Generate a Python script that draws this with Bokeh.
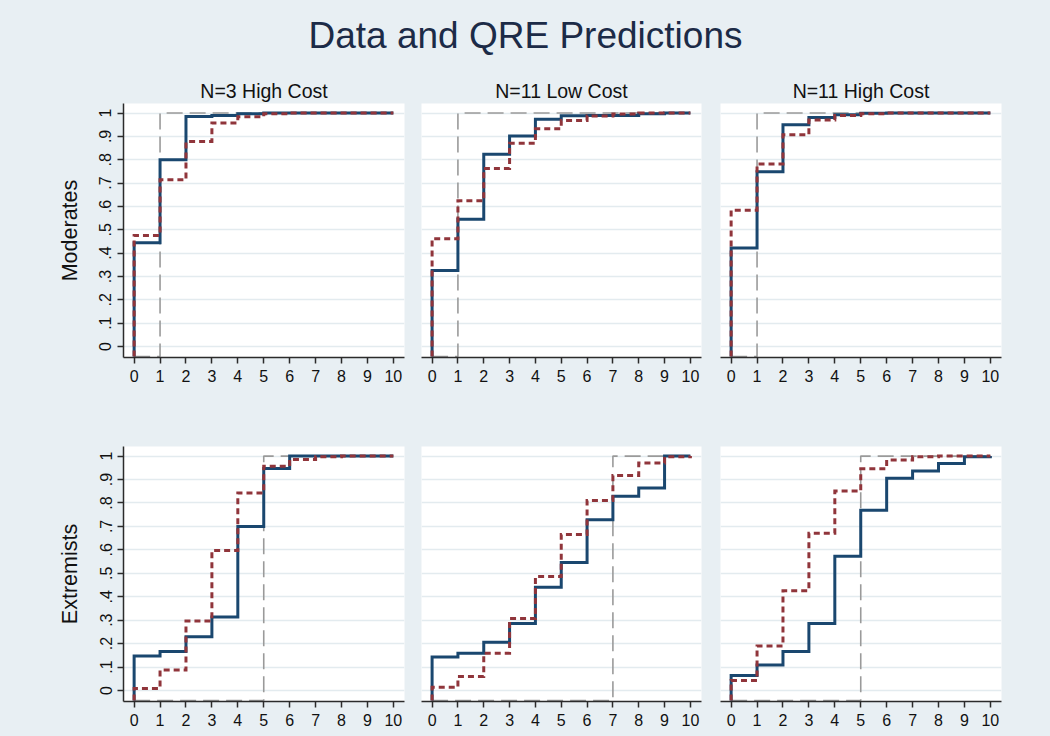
from bokeh.plotting import figure
from bokeh.layouts import gridplot, column
from bokeh.models import Range1d, FixedTicker, Grid, Label
from bokeh.embed import file_html
from bokeh.resources import INLINE

# ---------------- data ----------------
X_VALUES = [0, 1, 2, 3, 4, 5, 6, 7, 8, 9, 10]
X_TICKS = [0, 1, 2, 3, 4, 5, 6, 7, 8, 9, 10]
Y_TICKS = [0, 0.1, 0.2, 0.3, 0.4, 0.5, 0.6, 0.7, 0.8, 0.9, 1]
Y_TICK_LABELS = ["0", ".1", ".2", ".3", ".4", ".5", ".6", ".7", ".8", ".9", "1"]

MAIN_TITLE = "Data and QRE Predictions"
COLUMN_TITLES = ["N=3 High Cost", "N=11 Low Cost", "N=11 High Cost"]
ROW_LABELS = ["Moderates", "Extremists"]

FLOOR = -0.043  # level where the curves start (bottom of the plot region)

# Moderates
DATA_MOD_N3_HIGH = [0.445, 0.80, 0.985, 0.99, 0.997, 1.0, 1.0, 1.0, 1.0, 1.0, 1.0]
QRE_MOD_N3_HIGH = [0.476, 0.714, 0.878, 0.958, 0.984, 0.997, 1.0, 1.0, 1.0, 1.0, 1.0]
NASH_MOD_N3_HIGH = [-0.043, 1, 1, 1, 1, 1, 1, 1, 1, 1, 1]

DATA_MOD_N11_LOW = [0.326, 0.545, 0.824, 0.902, 0.974, 0.988, 0.99, 0.99, 0.997, 1.0, 1.0]
QRE_MOD_N11_LOW = [0.462, 0.624, 0.763, 0.871, 0.933, 0.968, 0.987, 0.996, 1.0, 1.0, 1.0]
NASH_MOD_N11_LOW = [-0.043, 1, 1, 1, 1, 1, 1, 1, 1, 1, 1]

DATA_MOD_N11_HIGH = [0.422, 0.749, 0.95, 0.981, 0.993, 0.999, 1.0, 1.0, 1.0, 1.0, 1.0]
QRE_MOD_N11_HIGH = [0.584, 0.782, 0.907, 0.97, 0.99, 0.997, 1.0, 1.0, 1.0, 1.0, 1.0]
NASH_MOD_N11_HIGH = [-0.043, 1, 1, 1, 1, 1, 1, 1, 1, 1, 1]

# Extremists
DATA_EXT_N3_HIGH = [0.147, 0.166, 0.229, 0.314, 0.70, 0.947, 1.0, 1.0, 1.0, 1.0, 1.0]
QRE_EXT_N3_HIGH = [0.009, 0.087, 0.297, 0.597, 0.843, 0.957, 0.986, 0.997, 1.0, 1.0, 1.0]
NASH_EXT_N3_HIGH = [-0.043, -0.043, -0.043, -0.043, -0.043, 1, 1, 1, 1, 1, 1]

DATA_EXT_N11_LOW = [0.143, 0.159, 0.206, 0.286, 0.44, 0.546, 0.729, 0.829, 0.864, 1.0, 1.0]
QRE_EXT_N11_LOW = [0.014, 0.06, 0.159, 0.307, 0.486, 0.666, 0.811, 0.917, 0.971, 0.997, 1.0]
NASH_EXT_N11_LOW = [-0.043, -0.043, -0.043, -0.043, -0.043, -0.043, -0.043, 1, 1, 1, 1]

DATA_EXT_N11_HIGH = [0.064, 0.109, 0.166, 0.286, 0.573, 0.769, 0.906, 0.937, 0.969, 0.997, 1.0]
QRE_EXT_N11_HIGH = [0.043, 0.19, 0.426, 0.671, 0.851, 0.946, 0.983, 0.997, 1.0, 1.0, 1.0]
NASH_EXT_N11_HIGH = [-0.043, -0.043, -0.043, -0.043, -0.043, 1, 1, 1, 1, 1, 1]

PANELS = [
    [(DATA_MOD_N3_HIGH, QRE_MOD_N3_HIGH, NASH_MOD_N3_HIGH),
     (DATA_MOD_N11_LOW, QRE_MOD_N11_LOW, NASH_MOD_N11_LOW),
     (DATA_MOD_N11_HIGH, QRE_MOD_N11_HIGH, NASH_MOD_N11_HIGH)],
    [(DATA_EXT_N3_HIGH, QRE_EXT_N3_HIGH, NASH_EXT_N3_HIGH),
     (DATA_EXT_N11_LOW, QRE_EXT_N11_LOW, NASH_EXT_N11_LOW),
     (DATA_EXT_N11_HIGH, QRE_EXT_N11_HIGH, NASH_EXT_N11_HIGH)],
]

# ---------------- style ----------------
BG = "#e8eff3"
GRID = "#e3ebef"
AXIS = "#2b2b2b"
BLUE = "#1a476f"
RED = "#90353b"
GRAY = "#9a9a9a"
FONT = "Liberation Sans"
TEXT = "#111111"

COL_W = [412, 299, 339]
COL_BL = [123, 9, 9]
COL_BR = [8, 10, 49]
ROW_H = [328, 334]
ROW_BT = [29, 44]
ROW_BB = [45, 35]


def make_panel(r, c):
    data, qre, nash = PANELS[r][c]
    p = figure(
        width=COL_W[c], height=ROW_H[r],
        x_range=Range1d(-0.41, 10.43), y_range=Range1d(-0.047, 1.041),
        output_backend="svg", toolbar_location=None,
        y_axis_location="left" if c == 0 else None,
        min_border_left=COL_BL[c], min_border_right=COL_BR[c],
        min_border_top=ROW_BT[r], min_border_bottom=ROW_BB[r],
        background_fill_color="white", border_fill_color=BG,
        outline_line_color=None,
    )
    p.grid.visible = False
    p.add_layout(Grid(dimension=1, ticker=FixedTicker(ticks=Y_TICKS),
                      grid_line_color=GRID, grid_line_width=1.5))

    if r == 0:
        p.title.text = COLUMN_TITLES[c]
        p.title.align = "center"
        p.title.text_font = FONT
        p.title.text_font_size = "19.5px"
        p.title.text_font_style = "normal"
        p.title.text_color = TEXT
        p.title.standoff = 4

    xa = p.xaxis
    xa.ticker = FixedTicker(ticks=X_TICKS)
    xa.axis_line_color = AXIS
    xa.axis_line_width = 1.5
    xa.major_tick_line_color = AXIS
    xa.major_tick_line_width = 1.5
    xa.major_tick_in = 0
    xa.major_tick_out = 6
    xa.minor_tick_line_color = None
    xa.major_label_standoff = 6
    xa.major_label_text_font = FONT
    xa.major_label_text_font_size = "16px"
    xa.major_label_text_color = TEXT

    if c == 0:
        ya = p.yaxis
        ya.ticker = FixedTicker(ticks=Y_TICKS)
        ya.major_label_overrides = {t: l for t, l in zip(Y_TICKS, Y_TICK_LABELS)}
        ya.major_label_orientation = "vertical"
        ya.axis_line_color = AXIS
        ya.axis_line_width = 1.5
        ya.major_tick_line_color = AXIS
        ya.major_tick_line_width = 1.5
        ya.major_tick_in = 0
        ya.major_tick_out = 6
        ya.minor_tick_line_color = None
        ya.major_label_standoff = 6
        ya.major_label_text_font = FONT
        ya.major_label_text_font_size = "16px"
        ya.major_label_text_color = TEXT
        ya.axis_label = ROW_LABELS[r]
        ya.axis_label_text_font = FONT
        ya.axis_label_text_font_size = "21.5px"
        ya.axis_label_text_font_style = "normal"
        ya.axis_label_text_color = TEXT
        ya.axis_label_standoff = 15

    xs = [X_VALUES[0]] + X_VALUES
    p.step(X_VALUES, nash, mode="after", line_color=GRAY, line_width=1.6,
           line_dash="16 7")
    p.step(xs, [FLOOR] + data, mode="after", line_color=BLUE, line_width=3,
           line_join="miter")
    p.step(xs, [FLOOR] + qre, mode="after", line_color=RED, line_width=3,
           line_dash="6 4", line_join="miter")
    return p


grid_rows = [[make_panel(r, c) for c in range(3)] for r in range(2)]
grid = gridplot(grid_rows, toolbar_location=None)
grid.styles = {"background-color": BG}

header = figure(width=1050, height=74, x_range=Range1d(0, 1), y_range=Range1d(0, 1),
                output_backend="svg", toolbar_location=None,
                x_axis_location=None, y_axis_location=None,
                min_border=0, outline_line_color=None,
                background_fill_color=BG, border_fill_color=BG)
header.grid.visible = False
header.add_layout(Label(x=0.5, y=0.527, text=MAIN_TITLE, text_align="center",
                        text_baseline="middle", text_font=FONT,
                        text_font_size="37px", text_color="#1c2b47"))

layout = column(header, grid)
layout.styles = {"background-color": BG}
open("out.html", "w").write(file_html(layout, INLINE))
